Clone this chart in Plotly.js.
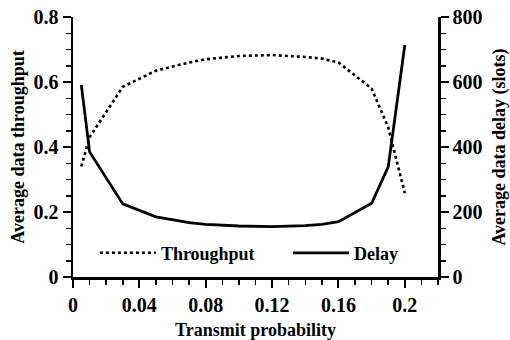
<!DOCTYPE html>
<html><head><meta charset="utf-8">
<script src="https://cdn.plot.ly/plotly-3.0.1.min.js"></script>
<style>html,body{margin:0;padding:0;background:#fff}#chart{width:510px;height:340px}</style>
</head><body><div id="chart"></div>
<script>
var prob = [0.005, 0.01, 0.03, 0.05, 0.07, 0.08, 0.1, 0.12, 0.14, 0.15, 0.16, 0.18, 0.19, 0.2];
var throughput = [0.34, 0.43, 0.585, 0.635, 0.66, 0.67, 0.68, 0.683, 0.677, 0.672, 0.66, 0.58, 0.46, 0.258];
var delay = [591, 385, 225, 185, 167, 162, 157, 155, 158, 162, 170, 227, 339, 714];

var fam = 'Liberation Serif, Times New Roman, serif';
var tickFont = {family: fam, size: 20, color: '#000', weight: 'bold'};
var titleFont = {family: fam, size: 18, color: '#000', weight: 'bold'};
var legFont = {family: fam, size: 18, color: '#000', weight: 'bold'};
var traces = [
  {x: prob, y: throughput, name: 'Throughput', type: 'scatter', mode: 'lines',
   line: {color: '#000', width: 2.6, dash: '3px,3px'}, yaxis: 'y', legend: 'legend'},
  {x: prob, y: delay, name: 'Delay', type: 'scatter', mode: 'lines',
   line: {color: '#000', width: 2.8}, yaxis: 'y2', legend: 'legend2'}
];
var axisCommon = {showgrid: false, zeroline: false, showline: true, linecolor: '#000', linewidth: 2.5,
  ticks: 'outside', ticklen: 8, tickwidth: 2, tickcolor: '#000', tickfont: tickFont};
var legCommon = {orientation: 'h', y: 0.092, xanchor: 'left', yanchor: 'middle',
  bgcolor: 'rgba(0,0,0,0)', font: legFont, itemwidth: 56};
var layout = {
  width: 510, height: 340,
  margin: {l: 73, r: 72, t: 17, b: 63},
  paper_bgcolor: '#fff', plot_bgcolor: '#fff',
  font: titleFont,
  showlegend: true,
  legend: Object.assign({}, legCommon, {x: 0.06}),
  legend2: Object.assign({}, legCommon, {x: 0.589}),
  xaxis: Object.assign({}, axisCommon, {range: [0, 0.22], dtick: 0.04, tick0: 0,
    minor: {dtick: 0.01, ticklen: 5, tickwidth: 1.5, tickcolor: '#000', ticks: 'outside'},
    title: {text: 'Transmit probability', font: titleFont, standoff: 17}}),
  yaxis: Object.assign({}, axisCommon, {range: [0, 0.8], dtick: 0.2, tick0: 0,
    minor: {dtick: 0.05, ticklen: 5, tickwidth: 1.5, tickcolor: '#000', ticks: 'outside'},
    title: {text: 'Average data throughput', font: titleFont, standoff: 4}}),
  yaxis2: Object.assign({}, axisCommon, {range: [0, 800], dtick: 200, tick0: 0, overlaying: 'y', side: 'right',
    minor: {dtick: 50, ticklen: 5, tickwidth: 1.5, tickcolor: '#000', ticks: 'outside'},
    title: {text: 'Average data delay (slots)', font: titleFont, standoff: 11}})
};
Plotly.newPlot('chart', traces, layout, {staticPlot: true, displayModeBar: false});
</script></body></html>
